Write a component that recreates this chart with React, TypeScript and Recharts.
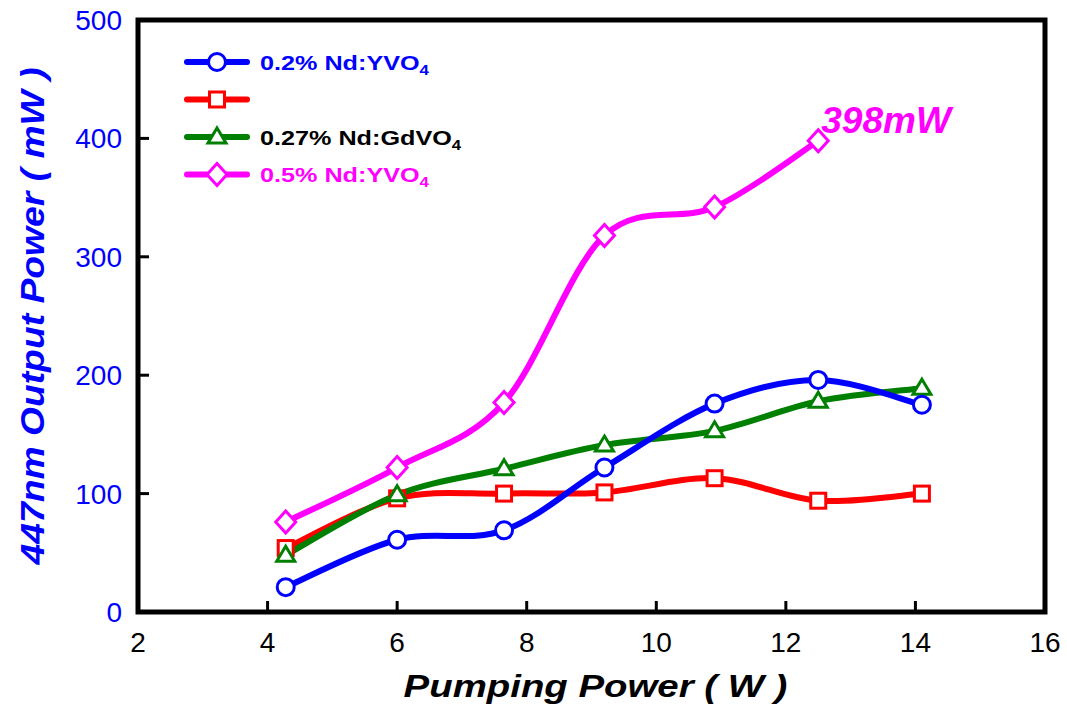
import React from 'react';
import { LineChart, Line, XAxis, YAxis, ReferenceArea, ReferenceDot, Legend } from 'recharts';

// ---- data ----
const pumpPower = [4.28, 6, 7.65, 9.2, 10.9, 12.5, 14.1];
const yvo4_02 = [21, 61, 69, 122, 176, 196, 175];
const redSeries = [54, 96, 100, 101, 113, 94, 100];
const gdvo4_027 = [48, 99, 121, 141, 153, 178, 189];
const yvo4_05 = [76, 122, 177, 318, 342, 398];
const xTicks = [2, 4, 6, 8, 10, 12, 14, 16];
const yTicks = [0, 100, 200, 300, 400, 500];
const peakX = 12.5;
const peakY = 398;
const peakText = '398mW';

const rows = (vals: number[]) => vals.map((v, i) => ({ x: pumpPower[i], y: v }));
const dataBlue = rows(yvo4_02);
const dataRed = rows(redSeries);
const dataGreen = rows(gdvo4_027);
const dataMagenta = rows(yvo4_05);

const FONT = '"Liberation Sans", Arial, Helvetica, sans-serif';
const BLUE = '#0000FF';
const RED = '#FF0000';
const GREEN = '#008000';
const MAGENTA = '#FF00FF';

// Catmull-Rom style smoothing (like Excel smoothed lines)
const smoothCurve: any = (context: any) => {
  let pts: number[][] = [];
  return {
    areaStart() {},
    areaEnd() {},
    lineStart() {
      pts = [];
    },
    point(x: number, y: number) {
      pts.push([+x, +y]);
    },
    lineEnd() {
      const n = pts.length;
      if (!n) return;
      context.moveTo(pts[0][0], pts[0][1]);
      for (let i = 0; i < n - 1; i++) {
        const p0 = pts[i - 1] || pts[i];
        const p1 = pts[i];
        const p2 = pts[i + 1];
        const p3 = pts[i + 2] || pts[i + 1];
        context.bezierCurveTo(
          p1[0] + (p2[0] - p0[0]) / 6,
          p1[1] + (p2[1] - p0[1]) / 6,
          p2[0] - (p3[0] - p1[0]) / 6,
          p2[1] - (p3[1] - p1[1]) / 6,
          p2[0],
          p2[1]
        );
      }
    },
  };
};

type Shape = 'circle' | 'square' | 'triangle' | 'diamond';

const Marker = ({ shape, color, cx, cy }: { shape: Shape; color: string; cx: number; cy: number }) => {
  const common = { fill: '#fff', stroke: color, strokeWidth: 3 };
  if (shape === 'circle') return <circle cx={cx} cy={cy} r={8.5} {...common} />;
  if (shape === 'square') return <rect x={cx - 7.5} y={cy - 7.5} width={15} height={15} {...common} />;
  if (shape === 'triangle')
    return <polygon points={`${cx},${cy - 9} ${cx + 9},${cy + 6} ${cx - 9},${cy + 6}`} {...common} />;
  return <polygon points={`${cx},${cy - 11} ${cx + 10},${cy} ${cx},${cy + 11} ${cx - 10},${cy}`} {...common} />;
};

const makeDot = (shape: Shape, color: string) => (props: any) => {
  const { cx, cy, index } = props;
  if (cx == null || cy == null) return <g key={`d-${shape}-${index}`} />;
  return (
    <g key={`d-${shape}-${index}`}>
      <Marker shape={shape} color={color} cx={cx} cy={cy} />
    </g>
  );
};

const legendItems: { shape: Shape; color: string; textColor: string; text: string; sub: string }[] = [
  { shape: 'circle', color: BLUE, textColor: BLUE, text: '0.2% Nd:YVO', sub: '4' },
  { shape: 'square', color: RED, textColor: RED, text: '', sub: '' },
  { shape: 'triangle', color: GREEN, textColor: '#000', text: '0.27% Nd:GdVO', sub: '4' },
  { shape: 'diamond', color: MAGENTA, textColor: MAGENTA, text: '0.5% Nd:YVO', sub: '4' },
];

const renderLegend = () => (
  <svg width={330} height={160} style={{ overflow: 'visible' }}>
    {legendItems.map((it, i) => {
      const y = 22 + i * 37.5;
      return (
        <g key={i}>
          <line x1={17} x2={77} y1={y} y2={y} stroke={it.color} strokeWidth={6} strokeLinecap="round" />
          <Marker shape={it.shape} color={it.color} cx={47} cy={y} />
          {it.text ? (
            <text
              transform={`translate(90,${y + 7.5}) scale(1.2,1)`}
              fontFamily={FONT}
              fontWeight="bold"
              fontSize={21}
              fill={it.textColor}
            >
              {it.text}
              <tspan fontSize={14} dy={5}>
                {it.sub}
              </tspan>
            </text>
          ) : null}
        </g>
      );
    })}
  </svg>
);

const YTitle = (props: any) => {
  const vb = props.viewBox || { x: 0, y: 20, width: 138, height: 592 };
  const cx = vb.x + 44;
  const cy = vb.y + vb.height / 2;
  return (
    <text
      transform={`translate(${cx},${cy}) rotate(-90) scale(1.13,1)`}
      textAnchor="middle"
      fontFamily={FONT}
      fontWeight="bold"
      fontStyle="italic"
      fontSize={33}
      fill={BLUE}
    >
      447nm Output Power ( mW )
    </text>
  );
};

const XTitle = (props: any) => {
  const vb = props.viewBox || { x: 138, y: 612, width: 907, height: 102 };
  const cx = vb.x + vb.width / 2 + 4;
  const cy = vb.y + 85;
  return (
    <text
      transform={`translate(${cx},${cy}) scale(1.2,1)`}
      textAnchor="middle"
      fontFamily={FONT}
      fontWeight="bold"
      fontStyle="italic"
      fontSize={32}
      fill="#000"
    >
      Pumping Power ( W )
    </text>
  );
};

const PeakLabel = (props: any) => {
  const vb = props.viewBox || { x: 0, y: 0, width: 0, height: 0 };
  const cx = vb.x + (vb.width || 0) / 2;
  const cy = vb.y + (vb.height || 0) / 2;
  return (
    <text
      x={cx + 3}
      y={cy - 8}
      fontFamily={FONT}
      fontWeight="bold"
      fontStyle="italic"
      fontSize={37}
      fill={MAGENTA}
    >
      {peakText}
    </text>
  );
};

export default function App() {
  return (
    <div style={{ position: 'absolute', left: 0, top: 0, width: 1067, height: 714, background: '#fff' }}>
      <LineChart width={1067} height={714} margin={{ top: 20, right: 22, left: 0, bottom: 0 }}>
        <XAxis
          dataKey="x"
          type="number"
          domain={[2, 16]}
          ticks={xTicks}
          interval={0}
          allowDataOverflow
          height={102}
          axisLine={false}
          tickSize={-11}
          tickMargin={31}
          tickLine={{ stroke: '#000', strokeWidth: 3 }}
          tick={{ fill: '#000', fontSize: 28, fontFamily: FONT }}
          label={<XTitle />}
        />
        <YAxis
          type="number"
          domain={[0, 500]}
          ticks={yTicks}
          interval={0}
          allowDataOverflow
          width={138}
          axisLine={false}
          tickSize={-11}
          tickMargin={27}
          tickLine={{ stroke: '#000', strokeWidth: 3 }}
          tick={{ fill: BLUE, fontSize: 28, fontFamily: FONT }}
          label={<YTitle />}
        />
        <ReferenceArea x1={2} x2={16} y1={0} y2={500} fill="none" fillOpacity={0} stroke="#000" strokeWidth={5} />
        <Line
          data={dataMagenta}
          dataKey="y"
          type={smoothCurve}
          stroke={MAGENTA}
          strokeWidth={6}
          dot={makeDot('diamond', MAGENTA)}
          isAnimationActive={false}
          name="0.5% Nd:YVO4"
        />
        <Line
          data={dataRed}
          dataKey="y"
          type={smoothCurve}
          stroke={RED}
          strokeWidth={6}
          dot={makeDot('square', RED)}
          isAnimationActive={false}
          name=" "
        />
        <Line
          data={dataGreen}
          dataKey="y"
          type={smoothCurve}
          stroke={GREEN}
          strokeWidth={6}
          dot={makeDot('triangle', GREEN)}
          isAnimationActive={false}
          name="0.27% Nd:GdVO4"
        />
        <Line
          data={dataBlue}
          dataKey="y"
          type={smoothCurve}
          stroke={BLUE}
          strokeWidth={6}
          dot={makeDot('circle', BLUE)}
          isAnimationActive={false}
          name="0.2% Nd:YVO4"
        />
        <ReferenceDot x={peakX} y={peakY} r={1} fill="none" stroke="none" label={<PeakLabel />} />
        <Legend
          layout="horizontal"
          verticalAlign="middle"
          align="center"
          content={renderLegend}
          wrapperStyle={{ position: 'absolute', left: 170, top: 40, width: 330, height: 160 }}
        />
      </LineChart>
    </div>
  );
}
